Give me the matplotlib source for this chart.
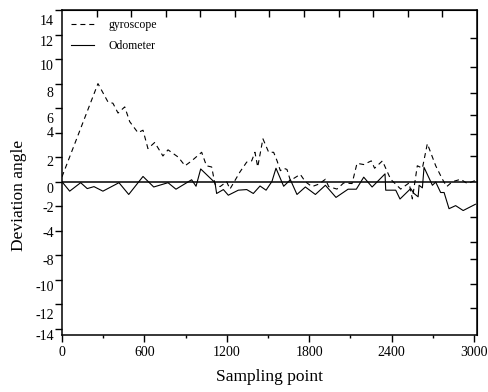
import matplotlib

matplotlib.use("Agg")
import matplotlib.pyplot as plt
import numpy as np

plt.rcParams["font.family"] = ["Liberation Serif", "DejaVu Serif"]

# gyroscope deviation (dashed)
gyro_x = [0, 262, 335, 371, 408, 457, 493, 553, 590, 626, 675, 735, 772, 847, 896,
          944, 1017, 1052, 1090, 1114, 1151, 1199, 1223, 1296, 1345, 1381, 1405,
          1425, 1463, 1505, 1541, 1566, 1590, 1614, 1638, 1663, 1735, 1772, 1820,
          1869, 1918, 1942, 2002, 2051, 2112, 2148, 2197, 2252, 2276, 2333, 2393,
          2466, 2527, 2551, 2587, 2624, 2660, 2721, 2770, 2801, 2842, 2903, 2951, 3010]
gyro_y = [0.4, 8.0, 6.5, 6.4, 5.6, 6.1, 4.9, 4.0, 4.2, 2.7, 3.2, 2.1, 2.6, 2.0, 1.3,
          1.7, 2.4, 1.3, 1.2, -0.2, -0.4, 0.0, -0.6, 0.8, 1.6, 1.7, 2.4,
          1.2, 3.5, 2.4, 2.4, 1.7, 0.9, 1.1, 1.0, 0.1, 0.6, 0.0, -0.4,
          -0.2, 0.2, -0.4, -0.6, -0.1, -0.15, 1.5, 1.4, 1.7, 1.1, 1.7, 0.2,
          -0.6, -0.1, -1.4, 1.3, 1.1, 3.1, 1.3, 0.2, -0.4, 0.0, 0.2, -0.15, 0.1]

# odometer deviation (solid)
odo_x = [0, 56, 136, 184, 233, 298, 415, 486, 590, 668, 772, 830, 944, 976, 1010,
         1114, 1126, 1175, 1211, 1284, 1345, 1393, 1442, 1486, 1529, 1558, 1614,
         1663, 1711, 1772, 1845, 1918, 1995, 2083, 2143, 2197, 2258, 2352, 2357,
         2430, 2461, 2539, 2563, 2593, 2600, 2624, 2636, 2697, 2721, 2757, 2782,
         2818, 2866, 2921, 3010]
odo_y = [0.0, -0.77, -0.08, -0.56, -0.4, -0.77, -0.08, -1.04, 0.43, -0.43, -0.08, -0.61, 0.16, -0.37, 1.04,
         -0.08, -0.96, -0.64, -1.1, -0.69, -0.64, -0.96, -0.35, -0.69, 0.03, 1.1, -0.37,
         0.16, -1.04, -0.43, -1.04, -0.29, -1.28, -0.61, -0.61, 0.37, -0.43, 0.64, -0.69,
         -0.69, -1.41, -0.56, -0.96, -1.23, -0.29, -0.5, 1.17, -0.29, -0.03, -0.88, -0.88,
         -2.2, -1.95, -2.35, -1.84]

xticks = [0, 600, 1200, 1800, 2400, 3000]
ytick_labels = ["14", "12", "10", "8", "6", "4", "2", "0",
                "-2", "-4", "-8", "-10", "-12", "-14"]
# where the (slightly shifted) labels sit on the axis
ylabel_pos = [13.2, 11.5, 9.5, 7.3, 5.2, 4.07, 1.7, -0.5,
              -2.07, -4.07, -6.4, -8.5, -10.8, -12.5]
right_ticks = [11.68, 9.36, 7.2, 5.44, 3.92, 2.08, -2.88, -4.88, -6.32, -8.32, -10.32]

fig = plt.figure(figsize=(4.88, 3.92), dpi=100)
ax = fig.add_axes([0.127, 0.1454, 0.850, 0.829])

ax.axhline(0, color="black", lw=1.1, zorder=1)
ax.plot(gyro_x, gyro_y, color="black", lw=0.8, dashes=(4.5, 3.5), label="gyroscope")
ax.plot(odo_x, odo_y, color="black", lw=0.8, label="Odometer")

ax.set_xlim(0, 3020)
ax.set_ylim(-12, 14)

ax.set_xticks(xticks)
ax.set_xticklabels([str(v) for v in xticks])
ax.set_xticks(np.arange(300, 3000, 600), minor=True)
ax.tick_params(axis="x", which="major", direction="out", length=5, width=1, labelsize=10, pad=3)
ax.tick_params(axis="x", which="minor", direction="out", length=2.5, width=1)

ax.set_yticks(np.arange(14, -13, -2))
ax.set_yticklabels([""] * 14)
ax.set_yticks(ylabel_pos, minor=True)
ax.set_yticklabels(ytick_labels, minor=True)
ax.tick_params(axis="y", which="major", direction="out", length=5, width=1)
ax.tick_params(axis="y", which="minor", length=0, labelsize=10, pad=6)

for s in ax.spines.values():
    s.set_linewidth(1.1)

top = ax.secondary_xaxis("top")
top.set_xticks(np.linspace(0, 3020, 13)[1:-1])
top.set_xticklabels([])
top.tick_params(direction="in", length=5, width=1)

right = ax.secondary_yaxis("right")
right.set_yticks(right_ticks)
right.set_yticklabels([])
right.tick_params(direction="in", length=5, width=1)

ax.set_xlabel("Sampling point", fontsize=12.5)
ax.xaxis.set_label_coords(0.5, -0.105)
ax.set_ylabel("Deviation angle", fontsize=12.5)
ax.yaxis.set_label_coords(-0.085, 0.43)

ax.legend(loc="upper left", frameon=False, fontsize=8.5, handlelength=2.0,
          handletextpad=1.2, borderaxespad=0.35, labelspacing=0.75)

fig.savefig("out.png", dpi=100)
